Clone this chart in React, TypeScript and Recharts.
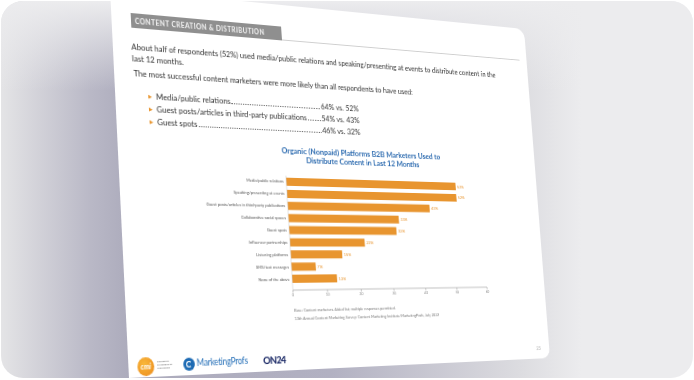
import React from 'react';
import { BarChart, Bar, XAxis, YAxis, LabelList } from 'recharts';

const categories = [
  'Media/public relations',
  'Speaking/presenting at events',
  'Guest posts/articles in third-party publications',
  'Collaborative social spaces',
  'Guest spots',
  'Influencer partnerships',
  'Listening platforms',
  'SMS/text messages',
  'None of the above',
];
const usage = [52, 52, 43, 33, 32, 22, 15, 7, 13];
const xTicks = [0, 10, 20, 30, 40, 50, 60];

const bulletLabels = ['Media/public relations', 'Guest posts/articles in third-party publications', 'Guest spots'];
const bulletValues = ['64% vs. 52%', '54% vs. 43%', '46% vs. 32%'];

const data = categories.map((name, i) => ({ name, value: usage[i] }));

const ORANGE = '#E8952F';
const PAGE_W = 500;
const PAGE_H = 360;
// where the page corners land in the photo (TL, TR, BR, BL)
const PAGE_QUAD = [[109, -13], [523, 28], [549, 357], [128, 377]];

function quadMatrix(w: number, h: number, q: number[][]) {
  const [[x0, y0], [x1, y1], [x2, y2], [x3, y3]] = q;
  const dx1 = x1 - x2, dx2 = x3 - x2, dx3 = x0 - x1 + x2 - x3;
  const dy1 = y1 - y2, dy2 = y3 - y2, dy3 = y0 - y1 + y2 - y3;
  const den = dx1 * dy2 - dx2 * dy1;
  const g = (dx3 * dy2 - dx2 * dy3) / den;
  const k = (dx1 * dy3 - dx3 * dy1) / den;
  const a = x1 - x0 + g * x1, b = x3 - x0 + k * x3;
  const d = y1 - y0 + g * y1, e = y3 - y0 + k * y3;
  const m = [a / w, d / w, 0, g / w, b / h, e / h, 0, k / h, 0, 0, 1, 0, x0, y0, 0, 1];
  return `matrix3d(${m.join(',')})`;
}

const textFont = 'Lato, "Open Sans", sans-serif';

// single-line category labels (the default tick wraps long names)
function CategoryTick({ x, y, payload }: any) {
  return (
    <text x={x} y={y} dy={1.5} textAnchor="end" fontSize={4.3} fill="#555">
      {payload.value}
    </text>
  );
}

function Logos() {
  return (
    <>
      <div style={{ position: 'absolute', left: 9, top: 342, width: 17, height: 17, borderRadius: '50%', background: 'radial-gradient(circle at 40% 35%, #f8b73a, #ec8a1c)', color: '#fff', fontSize: 7, fontWeight: 700, lineHeight: '17px', textAlign: 'center', fontStyle: 'italic' }}>cmi</div>
      <div style={{ position: 'absolute', left: 29, top: 345, fontSize: 2.6, lineHeight: '3.2px', color: '#777', fontWeight: 700 }}>
        CONTENT<br />MARKETING<br />INSTITUTE
      </div>
      <div style={{ position: 'absolute', left: 56, top: 344, width: 12, height: 12, borderRadius: '50%', background: '#1d6bb4' }}>
        <div style={{ position: 'absolute', left: 3, top: 3, width: 6, height: 6, borderRadius: '50%', border: '1.4px solid #fff', borderRightColor: 'transparent', boxSizing: 'border-box' }} />
      </div>
      <div style={{ position: 'absolute', left: 70, top: 344, fontSize: 8.6, color: '#2670b8', letterSpacing: -0.2, whiteSpace: 'nowrap' }}>MarketingProfs</div>
      <div style={{ position: 'absolute', left: 142, top: 343, fontSize: 10, fontWeight: 900, color: '#22306b', letterSpacing: -0.6 }}>ON24</div>
      <div style={{ position: 'absolute', left: 482, top: 346, fontSize: 5, color: '#b5b5b5' }}>23</div>
    </>
  );
}

function Page() {
  return (
    <div
      style={{
        position: 'absolute', left: 0, top: 0, width: PAGE_W, height: PAGE_H,
        background: '#fff', borderRadius: '0 12px 10px 0', transformOrigin: '0 0',
        transform: quadMatrix(PAGE_W, PAGE_H, PAGE_QUAD), fontFamily: textFont, color: '#333', overflow: 'hidden',
      }}
    >
      <div style={{ position: 'absolute', left: 20, top: 22, width: 165, height: 14, background: '#8f8f8f', color: '#f4f4f4', fontSize: 7, fontWeight: 700, letterSpacing: 0.45, lineHeight: '14px', paddingLeft: 4, boxSizing: 'border-box', whiteSpace: 'nowrap' }}>
        CONTENT CREATION &amp; DISTRIBUTION
      </div>
      <div style={{ position: 'absolute', left: 185, top: 35, width: 305, height: 1, background: '#cfcfcf' }} />

      <div style={{ position: 'absolute', left: 19, top: 49, fontSize: 8.1, lineHeight: '11.3px', whiteSpace: 'nowrap' }}>
        About half of respondents (52%) used media/public relations and speaking/presenting at events to distribute content in the<br />last 12 months.
      </div>
      <div style={{ position: 'absolute', left: 20, top: 74, fontSize: 8.1, lineHeight: '11.3px', whiteSpace: 'nowrap' }}>
        The most successful content marketers were more likely than all respondents to have used:
      </div>
      {bulletLabels.map((label, i) => (
        <div key={label} style={{ position: 'absolute', left: 34, top: 93.5 + i * 12.1, height: 12.1, width: 240, display: 'flex', alignItems: 'center', fontSize: 8.2, whiteSpace: 'nowrap' }}>
          <span style={{ color: ORANGE, fontSize: 5, width: 8 }}>&#9654;</span>
          <span>{label}</span>
          <span style={{ flex: 1, alignSelf: 'stretch', margin: '0 1px 3px 1px', borderBottom: '1.1px dotted #666' }} />
          <span style={{ width: 48 }}>{bulletValues[i]}</span>
        </div>
      ))}

      <div style={{ position: 'absolute', left: 154, top: 141.5, width: 240, textAlign: 'center', fontSize: 8.4, lineHeight: '9.3px', fontWeight: 700, color: '#2e6cb0' }}>
        Organic (Nonpaid) Platforms B2B Marketers Used to<br />Distribute Content in Last 12 Months
      </div>

      <div style={{ position: 'absolute', left: 70, top: 171 }}>
        <BarChart layout="vertical" width={371} height={124} data={data} margin={{ top: 0, right: 20, bottom: 0, left: 0 }}>
          <XAxis type="number" domain={[0, 60]} ticks={xTicks} interval={0} height={12} tickSize={2.5} tickMargin={1}
            tick={{ fontSize: 4, fill: '#888' }} axisLine={{ stroke: '#999', strokeWidth: 0.6 }} tickLine={{ stroke: '#999', strokeWidth: 0.6 }} />
          <YAxis type="category" dataKey="name" width={110} interval={0} tickSize={2} tickMargin={1} padding={{ top: 0, bottom: 5 }}
            tick={<CategoryTick />} axisLine={{ stroke: '#ccc', strokeWidth: 0.6 }} tickLine={false} />
          <Bar dataKey="value" fill={ORANGE} barSize={8} isAnimationActive={false}>
            <LabelList dataKey="value" position="right" offset={2} formatter={(v: any) => `${v}%`} fontSize={4.5} fill={ORANGE} />
          </Bar>
        </BarChart>
      </div>

      <div style={{ position: 'absolute', left: 180, top: 299, fontSize: 4.2, lineHeight: '8px', color: '#777', whiteSpace: 'nowrap' }}>
        Base: Content marketers. Aided list; multiple responses permitted.<br />
        13th Annual Content Marketing Survey: Content Marketing Institute/MarketingProfs, July 2022
      </div>
      <Logos />
    </div>
  );
}

export default function App() {
  return (
    <div style={{ position: 'relative', width: 694, height: 380, background: '#fff', overflow: 'hidden' }}>
      <style>{'body{margin:0}'}</style>
      <div style={{ position: 'absolute', left: 1, top: 1, width: 692, height: 377, borderRadius: 22, overflow: 'hidden', background: 'linear-gradient(90deg, #e4e4e6 0px, #b9b8c6 90px, #acabbc 128px, #b2b1c2 330px, #dcdce0 520px, #ececee 580px)' }}>
        <div style={{ position: 'absolute', left: 0, top: 0, width: 692, height: 90, background: 'linear-gradient(180deg, #ececee 0%, rgba(236,236,238,0) 100%)' }} />
        <Page />
      </div>
    </div>
  );
}
